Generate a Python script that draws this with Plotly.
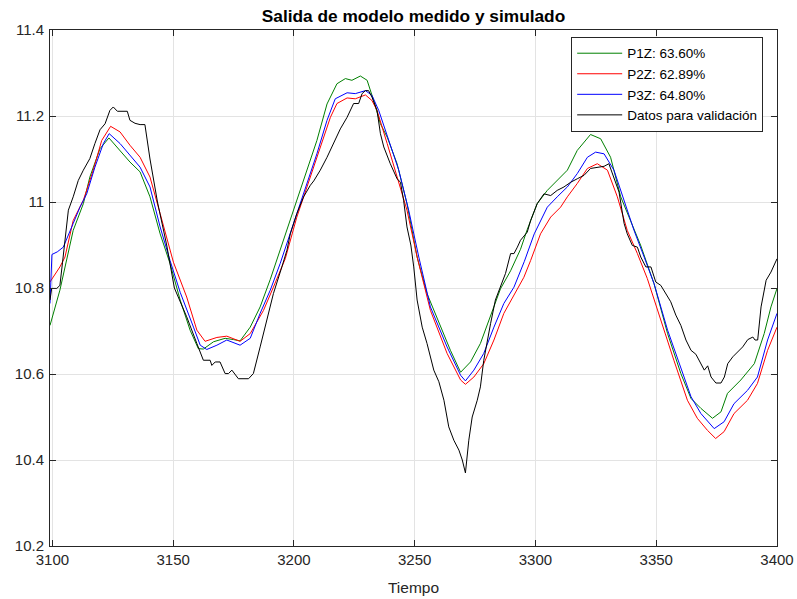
import plotly.graph_objects as go

# ---------------- data ----------------
t_p1z = [3099.0, 3103.1, 3108.6, 3112.8, 3115.5, 3119.7, 3123.4, 3128.0, 3132.1, 3136.3,
         3140.4, 3144.6, 3148.7, 3152.9, 3157.0, 3160.4, 3162.5, 3166.7, 3171.5, 3175.0,
         3177.7, 3181.9, 3186.0, 3190.2, 3194.3, 3198.5, 3204.0, 3209.5, 3213.7, 3217.8,
         3221.3, 3224.0, 3227.5, 3230.3, 3233.0, 3235.8, 3238.6, 3242.7, 3246.8, 3251.0,
         3255.1, 3260.7, 3264.8, 3269.0, 3273.1, 3277.2, 3281.4, 3285.5, 3289.7, 3293.8,
         3296.6, 3300.7, 3304.9, 3309.0, 3313.2, 3317.3, 3322.8, 3327.0, 3331.1, 3335.3,
         3339.4, 3343.5, 3349.1, 3354.7, 3360.2, 3364.4, 3368.5, 3373.3, 3376.8, 3379.5,
         3385.0, 3390.6, 3394.7, 3397.5, 3400.0]
y_p1z = [10.713, 10.795, 10.934, 10.996, 11.058, 11.124, 11.149, 11.120, 11.093, 11.070,
         11.012, 10.926, 10.857, 10.772, 10.702, 10.659, 10.658, 10.675, 10.683, 10.680,
         10.677, 10.709, 10.756, 10.820, 10.888, 10.957, 11.050, 11.143, 11.228, 11.275,
         11.287, 11.283, 11.293, 11.283, 11.236, 11.182, 11.151, 11.089, 10.996, 10.872,
         10.787, 10.709, 10.655, 10.604, 10.628, 10.671, 10.733, 10.798, 10.840, 10.890,
         10.936, 10.996, 11.027, 11.050, 11.074, 11.120, 11.157, 11.147, 11.104, 11.012,
         10.957, 10.900, 10.810, 10.694, 10.601, 10.543, 10.520, 10.497, 10.512, 10.555,
         10.586, 10.624, 10.694, 10.756, 10.799]

t_p2z = [3099.0, 3103.1, 3105.2, 3108.6, 3112.8, 3116.9, 3120.4, 3124.1, 3128.0, 3132.1,
         3136.3, 3140.4, 3144.6, 3148.7, 3150.1, 3155.6, 3159.8, 3163.2, 3168.1, 3172.2,
         3177.7, 3181.9, 3187.4, 3191.5, 3196.4, 3201.2, 3206.8, 3210.9, 3215.1, 3217.8,
         3222.0, 3225.4, 3229.6, 3232.3, 3234.4, 3238.6, 3242.7, 3246.8, 3251.0, 3256.5,
         3263.4, 3269.0, 3271.0, 3274.5, 3278.6, 3282.8, 3286.9, 3291.1, 3295.2, 3298.0,
         3302.1, 3306.3, 3310.4, 3313.2, 3317.3, 3321.5, 3325.6, 3329.8, 3333.9, 3338.0,
         3342.2, 3346.3, 3351.8, 3357.3, 3362.9, 3367.0, 3371.2, 3374.6, 3378.1, 3382.2,
         3387.8, 3391.9, 3396.1, 3400.0]
y_p2z = [10.814, 10.849, 10.872, 10.957, 11.004, 11.074, 11.143, 11.176, 11.163, 11.132,
         11.104, 11.058, 10.973, 10.888, 10.860, 10.779, 10.702, 10.676, 10.685, 10.688,
         10.676, 10.694, 10.748, 10.802, 10.868, 10.965, 11.058, 11.128, 11.197, 11.229,
         11.242, 11.240, 11.249, 11.236, 11.213, 11.136, 11.058, 10.981, 10.872, 10.748,
         10.648, 10.586, 10.576, 10.593, 10.624, 10.679, 10.741, 10.782, 10.825, 10.864,
         10.926, 10.965, 10.988, 11.012, 11.043, 11.078, 11.089, 11.074, 11.012, 10.934,
         10.880, 10.822, 10.725, 10.632, 10.539, 10.497, 10.469, 10.450, 10.466, 10.508,
         10.539, 10.578, 10.655, 10.709]

t_p3z = [3099.0, 3099.8, 3102.0, 3104.5, 3108.6, 3111.4, 3114.2, 3117.6, 3121.1, 3123.5,
         3128.0, 3132.1, 3136.3, 3140.4, 3144.6, 3148.7, 3152.9, 3158.4, 3161.2, 3163.9,
         3168.1, 3172.2, 3177.7, 3181.9, 3186.0, 3190.2, 3194.3, 3201.2, 3205.4, 3209.5,
         3213.7, 3217.1, 3222.0, 3225.4, 3229.6, 3232.3, 3235.1, 3239.2, 3243.4, 3247.5,
         3251.7, 3256.5, 3263.4, 3269.0, 3271.0, 3274.5, 3278.6, 3282.8, 3286.9, 3291.1,
         3295.4, 3299.5, 3304.9, 3309.0, 3313.2, 3317.3, 3321.5, 3324.9, 3328.4, 3332.5,
         3336.7, 3340.8, 3345.0, 3349.1, 3354.7, 3360.2, 3364.4, 3368.5, 3374.0, 3378.1,
         3382.2, 3387.8, 3391.9, 3396.1, 3400.0]
y_p3z = [10.764, 10.878, 10.884, 10.895, 10.950, 10.988, 11.019, 11.081, 11.136, 11.159,
         11.136, 11.108, 11.081, 11.035, 10.942, 10.864, 10.790, 10.709, 10.667, 10.657,
         10.667, 10.679, 10.667, 10.683, 10.741, 10.795, 10.857, 10.973, 11.043, 11.112,
         11.190, 11.240, 11.254, 11.252, 11.259, 11.248, 11.213, 11.143, 11.074, 10.981,
         10.872, 10.756, 10.663, 10.597, 10.584, 10.609, 10.648, 10.709, 10.764, 10.802,
         10.862, 10.926, 10.988, 11.012, 11.035, 11.066, 11.104, 11.116, 11.112, 11.074,
         11.004, 10.934, 10.872, 10.810, 10.702, 10.617, 10.547, 10.508, 10.473, 10.489,
         10.531, 10.562, 10.593, 10.679, 10.741]

t_val = [3099.0, 3099.7, 3101.8, 3103.1, 3104.2, 3106.6, 3108.6, 3110.7, 3112.8, 3115.5,
         3117.6, 3119.7, 3121.8, 3123.8, 3125.2, 3126.9, 3131.0, 3132.1, 3134.2, 3136.3,
         3138.3, 3140.4, 3143.5, 3147.3, 3150.5, 3155.6, 3159.8, 3161.2, 3162.5, 3165.3,
         3166.0, 3167.4, 3169.4, 3171.5, 3172.9, 3174.3, 3175.7, 3177.0, 3181.2, 3183.2,
         3186.0, 3188.8, 3191.5, 3195.0, 3197.1, 3198.5, 3201.2, 3204.0, 3206.8, 3208.2,
         3210.9, 3213.7, 3216.4, 3219.2, 3222.0, 3224.7, 3226.8, 3228.2, 3229.6, 3230.9,
         3232.3, 3234.4, 3235.8, 3237.2, 3239.9, 3242.7, 3244.1, 3245.4, 3246.8, 3248.4,
         3249.6, 3251.0, 3253.1, 3255.1, 3257.9, 3260.0, 3262.1, 3264.1, 3266.2, 3268.3,
         3269.7, 3271.0, 3272.4, 3273.8, 3275.9, 3277.2, 3278.6, 3280.0, 3281.4, 3283.4,
         3285.5, 3287.6, 3289.7, 3291.1, 3292.5, 3293.8, 3296.6, 3298.0, 3300.7, 3303.5,
         3306.3, 3309.0, 3311.8, 3314.6, 3317.3, 3320.1, 3322.8, 3325.6, 3328.4, 3330.4,
         3332.5, 3334.6, 3336.7, 3338.0, 3340.1, 3342.2, 3343.6, 3345.7, 3347.8, 3349.8,
         3351.9, 3354.0, 3356.0, 3358.1, 3360.2, 3362.3, 3364.4, 3366.4, 3368.5, 3369.9,
         3371.3, 3372.7, 3374.7, 3376.8, 3378.2, 3379.6, 3381.7, 3383.7, 3385.8, 3387.9,
         3390.0, 3390.9, 3392.0, 3393.4, 3395.5, 3397.5, 3400.0]
y_val = [10.772, 10.799, 10.799, 10.806, 10.860, 10.981, 11.012, 11.050, 11.074, 11.101,
         11.136, 11.168, 11.182, 11.213, 11.221, 11.211, 11.211, 11.190, 11.183, 11.180,
         11.180, 11.100, 11.000, 10.900, 10.800, 10.733, 10.671, 10.648, 10.632, 10.632,
         10.620, 10.628, 10.628, 10.601, 10.601, 10.609, 10.597, 10.589, 10.589, 10.601,
         10.663, 10.725, 10.787, 10.849, 10.888, 10.926, 10.973, 11.012, 11.039, 11.049,
         11.074, 11.104, 11.136, 11.170, 11.197, 11.229, 11.229, 11.252, 11.259, 11.259,
         11.244, 11.213, 11.159, 11.128, 11.089, 11.054, 11.046, 11.004, 10.942, 10.900,
         10.849, 10.772, 10.709, 10.671, 10.609, 10.582, 10.539, 10.477, 10.446, 10.423,
         10.400, 10.370, 10.446, 10.500, 10.539, 10.570, 10.632, 10.679, 10.717, 10.772,
         10.802, 10.834, 10.880, 10.880, 10.895, 10.911, 10.930, 10.957, 10.996, 11.019,
         11.015, 11.027, 11.035, 11.046, 11.054, 11.062, 11.078, 11.081, 11.083, 11.089,
         11.058, 11.023, 10.950, 10.926, 10.899, 10.895, 10.872, 10.849, 10.849, 10.814,
         10.806, 10.787, 10.768, 10.737, 10.713, 10.679, 10.655, 10.646, 10.624, 10.609,
         10.619, 10.593, 10.579, 10.579, 10.593, 10.624, 10.640, 10.651, 10.663, 10.680,
         10.686, 10.679, 10.679, 10.756, 10.818, 10.837, 10.868]

series_names = ["P1Z: 63.60%", "P2Z: 62.89%", "P3Z: 64.80%", "Datos para validación"]
series_colors = ["#008000", "#ff0000", "#0000ff", "#000000"]

x_ticks = [3100, 3150, 3200, 3250, 3300, 3350, 3400]
y_ticks = [10.2, 10.4, 10.6, 10.8, 11.0, 11.2, 11.4]
y_tick_labels = ["10.2", "10.4", "10.6", "10.8", "11", "11.2", "11.4"]

title_text = "Salida de modelo medido y simulado"
x_title = "Tiempo"

# ---------------- figure ----------------
FONT = "Liberation Sans, Arial, Helvetica, sans-serif"
fig = go.Figure()
for tx, ty, name, col in zip([t_p1z, t_p2z, t_p3z, t_val],
                             [y_p1z, y_p2z, y_p3z, y_val],
                             series_names, series_colors):
    fig.add_trace(go.Scatter(x=tx, y=ty, mode="lines", name=name,
                             line=dict(color=col, width=1)))

axis_common = dict(
    showline=True, linecolor="#262626", linewidth=1, mirror="allticks",
    ticks="inside", ticklen=6, tickcolor="#262626", tickwidth=1,
    showgrid=True, gridcolor="#e3e3e3", gridwidth=1, zeroline=False,
    automargin=False,
    tickfont=dict(family=FONT, size=15, color="#262626"),
)

fig.update_layout(
    width=797, height=599,
    margin=dict(l=50, r=20, t=29.5, b=53),
    paper_bgcolor="white", plot_bgcolor="white",
    title=dict(text="<b>" + title_text + "</b>", x=0.5, xref="paper", xanchor="center",
               y=0.9733, yref="container", yanchor="middle",
               font=dict(family=FONT, size=17.3, color="#000000")),
    xaxis=dict(range=[3099, 3400], tickvals=x_ticks,
               title=dict(text=x_title, font=dict(family=FONT, size=15.5, color="#262626"), standoff=15),
               **axis_common),
    yaxis=dict(range=[10.2, 11.4], tickvals=y_ticks, ticktext=y_tick_labels,
               ticklabelstandoff=2, **axis_common),
    legend=dict(x=0.981, y=0.8945, xanchor="right", yanchor="middle",
                bgcolor="white", bordercolor="#262626", borderwidth=1,
                font=dict(family=FONT, size=13.5, color="#000000"),
                tracegroupgap=0, itemwidth=45),
    showlegend=True,
    hovermode=False,
)

# remove the default page margin so the figure sits exactly at the window origin
fig.write_html("out.html",
               config={"displayModeBar": False},
               post_script="document.body.style.margin='0';document.body.style.overflow='hidden';")
